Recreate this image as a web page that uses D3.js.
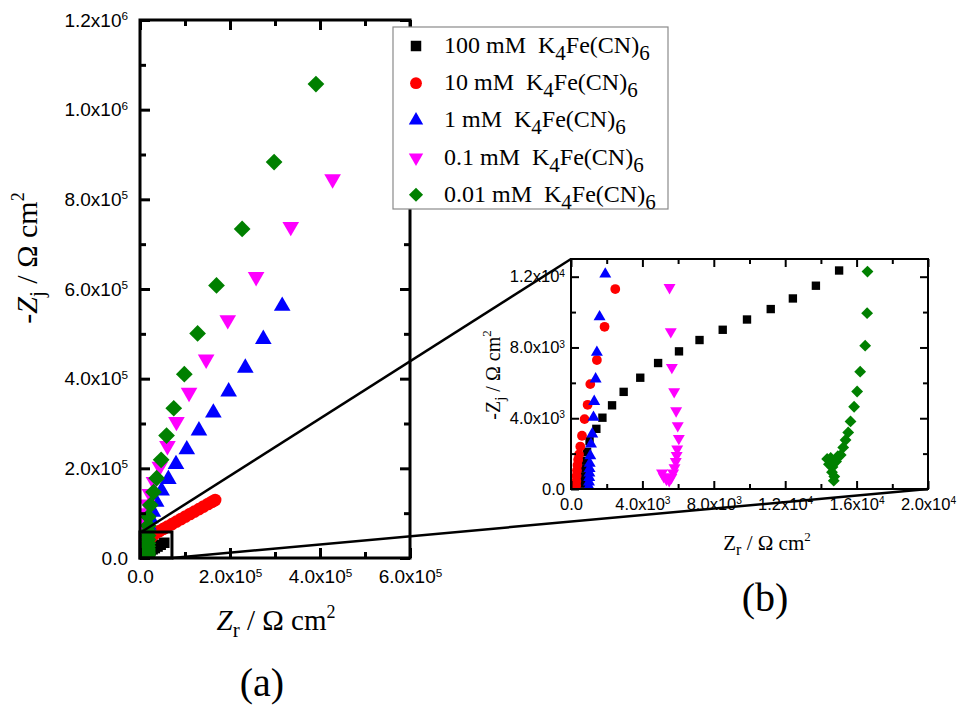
<!DOCTYPE html>
<html>
<head>
<meta charset="utf-8">
<script src="https://cdn.jsdelivr.net/npm/d3@7"></script>
<style>
  body { margin: 0; background: #fff; }
</style>
</head>
<body>
<div id="chart"></div>
<script>
// ---- data (Zr, -Zj in ohm cm2) ----
const series_names = ["100 mM", "10 mM", "1 mM", "0.1 mM", "0.01 mM"];
const series_colors = ["#000000", "#ff0000", "#0000ff", "#ff00ff", "#008000"];
const series_shapes = ["square", "circle", "up", "down", "diamond"];

const zr_100 = [600, 650, 720, 800, 900, 1040, 1420, 1760, 2300, 2950, 3880, 4880, 6050, 7200, 8500, 9860, 11190, 12430, 13720, 15020,
    16500, 18500, 21000, 24000, 28000, 33000, 39000, 46000, 54000];
const zj_100 = [300, 700, 1150, 1600, 2100, 2700, 3400, 4030, 4730, 5490, 6290, 7120, 7780, 8420, 9000, 9580, 10170, 10770, 11490, 12350,
    13200, 14300, 15600, 17200, 19300, 22000, 25500, 29500, 34000];

const zr_10 = [290, 300, 315, 335, 360, 400, 450, 520, 615, 760, 930, 1080, 1450, 1880, 2480,
    3300, 4500, 6200, 8500, 11500, 15000, 19500, 24000, 29000, 34000, 43000, 52000, 61000, 71000, 81000, 91000,
    101000, 111000, 121000, 131000, 141000, 151000, 160000, 167000];
const zj_10 = [200, 450, 750, 1050, 1350, 1650, 1950, 2400, 3010, 3950, 4760, 5930, 7290, 9170, 11300,
    13500, 16500, 20500, 25000, 30000, 35500, 41000, 46000, 50500, 55000, 60000, 65000, 70000, 75600, 81200, 86800,
    92400, 98000, 103500, 109000, 114700, 120300, 125300, 129200];

const zr_1 = [1000, 1010, 1020, 1030, 1040, 1050, 1080, 1120, 1190, 1260, 1300, 1380, 1450, 1600, 1920,
    2500, 3300, 4500, 6000, 8000, 10500, 14000, 18500, 23000, 28500, 36000, 48000, 63000, 80000, 104000,
    131000, 163000, 197000, 234000, 274000, 316000];
const zj_1 = [150, 400, 650, 900, 1150, 1450, 1880, 2540, 3110, 4050, 4950, 6220, 7720, 9730, 12150,
    15500, 20000, 26000, 33000, 41000, 50000, 61000, 74000, 88000, 103000, 125000, 150000, 176000, 209000, 242000,
    284000, 324000, 371000, 424000, 488000, 562000];

const zr_01 = [5100, 5200, 5350, 5500, 5620, 5720, 5800, 5870, 5920, 5950, 6040, 5980, 5890, 5780, 5650, 5590, 5520,
    5500, 5600, 5800, 6200, 6800, 7600, 8600, 10000, 12500, 16000, 22000, 31000, 44000, 61000, 81000,
    109000, 147000, 195000, 258000, 335000, 428000];
const zj_01 = [900, 700, 550, 480, 650, 900, 1200, 1550, 1900, 2260, 2860, 3580, 4420, 5500, 6870, 8890, 11390,
    14500, 19000, 25000, 33000, 43000, 55000, 68000, 83000, 100000, 120000, 143000, 170000, 204000, 250000, 304000,
    369000, 443000, 531000, 627000, 739000, 845000];

const zr_001 = [14350, 14450, 14550, 14650, 14620, 14750, 14720, 14850, 14950, 15110, 15250, 15380, 15530, 15660, 15860,
    16030, 16200, 16480, 16590, 16610,
    16800, 17000, 17300, 17500, 17700, 17900, 18100, 18300, 18500, 23000, 30000, 37000, 47000, 59000, 75000,
    98500, 128000, 170000, 227000, 298000, 391000];
const zj_001 = [1700, 1400, 1750, 1250, 950, 700, 470, 1550, 1850, 1920, 2350, 2770, 3200, 3820, 4650,
    5510, 6630, 8100, 9940, 12290,
    15500, 20000, 26000, 33000, 41000, 50000, 60000, 72000, 92000, 118000, 147000, 178000, 219000, 273000, 334000,
    410000, 501000, 608000, 734000, 883000, 1057000];

const series_zr = [zr_100, zr_10, zr_1, zr_01, zr_001];
const series_zj = [zj_100, zj_10, zj_1, zj_01, zj_001];

// ticks
const main_x_major = [0, 2e5, 4e5, 6e5];
const main_x_minor = [1e5, 3e5, 5e5];
const main_y_major = [0, 2e5, 4e5, 6e5, 8e5, 1e6, 1.2e6];
const main_y_minor = [1e5, 3e5, 5e5, 7e5, 9e5, 1.1e6];
const inset_x_major = [0, 4e3, 8e3, 1.2e4, 1.6e4, 2e4];
const inset_x_minor = [2e3, 6e3, 1e4, 1.4e4, 1.8e4];
const inset_y_major = [0, 4e3, 8e3, 1.2e4];
const inset_y_minor = [2e3, 6e3, 1e4];

// zoom box drawn on the main plot (data units)
const zoom_box = [0, 7.1e4, 0, 5.8e4];

// ---- layout ----
const width = 958, height = 705;
const main = {left: 140, top: 20, right: 410, bottom: 558};
const inset = {left: 571, top: 259, right: 928, bottom: 489};
const serif = "'Liberation Serif', 'Times New Roman', serif";
const sans = "'Liberation Sans', Arial, sans-serif";

const svg = d3.select("#chart")
    .append("svg")
    .attr("width", width)
    .attr("height", height);

const x_main = d3.scaleLinear().domain([0, 6e5]).range([main.left, main.right]);
const y_main = d3.scaleLinear().domain([0, 1.2e6]).range([main.bottom, main.top]);
const x_inset = d3.scaleLinear().domain([0, 2e4]).range([inset.left, inset.right]);
const y_inset = d3.scaleLinear().domain([0, 1.3e4]).range([inset.bottom, inset.top]);

function symbolPath(shape, size) {
    const type = {square: d3.symbolSquare, circle: d3.symbolCircle, up: d3.symbolTriangle,
        down: d3.symbolTriangle, diamond: d3.symbolSquare}[shape];
    return d3.symbol(type, size)();
}
function symbolRotate(shape) {
    if (shape === "down") return " rotate(180)";
    if (shape === "diamond") return " rotate(45)";
    return "";
}

function sciLabel(sel, v) {
    sel.text(null);
    if (v === 0) {
        sel.append("tspan").text("0.0");
        return;
    }
    const e = Math.floor(Math.log10(v) + 1e-9);
    const m = v / Math.pow(10, e);
    sel.append("tspan").text(m.toFixed(1) + "x10");
    sel.append("tspan").attr("dy", "-0.55em").attr("font-size", "0.62em").text(e);
}

function addAxis(g, axisFn, scale, pos, values, size, labels, fontSize, pad, lw) {
    const a = axisFn(scale).tickValues(values).tickSize(-size).tickPadding(pad);
    if (!labels) a.tickFormat("");
    const ag = g.append("g").attr("transform", pos).call(a);
    ag.select(".domain").remove();
    ag.selectAll("line").attr("stroke", "#000").attr("stroke-width", lw);
    if (labels) {
        ag.selectAll("text")
            .attr("font-family", sans)
            .attr("font-size", fontSize)
            .attr("fill", "#000")
            .each(function (d) { sciLabel(d3.select(this), d); });
    } else {
        ag.selectAll("text").remove();
    }
}

function drawPanel(g, x, y, box, opt) {
    const clipId = "clip_" + opt.name;
    g.append("clipPath").attr("id", clipId)
        .append("rect")
        .attr("x", box.left).attr("y", box.top)
        .attr("width", box.right - box.left).attr("height", box.bottom - box.top);

    g.append("rect")
        .attr("x", box.left).attr("y", box.top)
        .attr("width", box.right - box.left).attr("height", box.bottom - box.top)
        .attr("fill", "#fff");

    const pts = g.append("g").attr("clip-path", "url(#" + clipId + ")");
    for (let s = 0; s < series_names.length; ++s) {
        const data = series_zr[s].map((v, i) => [v, series_zj[s][i]]);
        const shape = series_shapes[s];
        pts.append("g").selectAll("path")
            .data(data)
            .enter().append("path")
            .attr("d", symbolPath(shape, opt.sizes[shape]))
            .attr("transform", d => "translate(" + x(d[0]) + "," + y(d[1]) + ")" + symbolRotate(shape))
            .attr("fill", series_colors[s]);
    }

    const b = "translate(0," + box.bottom + ")", t = "translate(0," + box.top + ")";
    const l = "translate(" + box.left + ",0)", r = "translate(" + box.right + ",0)";
    addAxis(g, d3.axisBottom, x, b, opt.xMinor, opt.minor, false, 0, 0, opt.lw);
    addAxis(g, d3.axisBottom, x, b, opt.xMajor, opt.major, true, opt.font, opt.padX, opt.lw);
    addAxis(g, d3.axisTop, x, t, opt.xMinor, opt.minor, false, 0, 0, opt.lw);
    addAxis(g, d3.axisTop, x, t, opt.xMajor, opt.major, false, 0, 0, opt.lw);
    addAxis(g, d3.axisLeft, y, l, opt.yMinor, opt.minor, false, 0, 0, opt.lw);
    addAxis(g, d3.axisLeft, y, l, opt.yMajor, opt.major, true, opt.font, opt.padY, opt.lw);
    addAxis(g, d3.axisRight, y, r, opt.yMinor, opt.minor, false, 0, 0, opt.lw);
    addAxis(g, d3.axisRight, y, r, opt.yMajor, opt.major, false, 0, 0, opt.lw);

    g.append("rect")
        .attr("x", box.left).attr("y", box.top)
        .attr("width", box.right - box.left).attr("height", box.bottom - box.top)
        .attr("fill", "none").attr("stroke", "#000").attr("stroke-width", opt.lw);
}

// ---- main plot (a) ----
const gMain = svg.append("g");
drawPanel(gMain, x_main, y_main, main, {
    name: "main", xMajor: main_x_major, xMinor: main_x_minor, yMajor: main_y_major, yMinor: main_y_minor,
    major: 10, minor: 6, font: 19, padX: 12, padY: 12, lw: 3,
    sizes: {square: 110, circle: 125, up: 120, down: 120, diamond: 140}
});

// zoom box
gMain.append("rect")
    .attr("x", x_main(zoom_box[0]))
    .attr("y", y_main(zoom_box[3]))
    .attr("width", x_main(zoom_box[1]) - x_main(zoom_box[0]))
    .attr("height", y_main(zoom_box[2]) - y_main(zoom_box[3]))
    .attr("fill", "none").attr("stroke", "#000").attr("stroke-width", 3);

// axis titles of (a)
gMain.append("text")
    .attr("x", 276).attr("y", 630)
    .attr("text-anchor", "middle")
    .attr("font-family", serif).attr("font-size", 29)
    .call(t => {
        t.append("tspan").attr("font-style", "italic").text("Z");
        t.append("tspan").attr("dy", 7).attr("font-size", 21).text("r");
        t.append("tspan").attr("dy", -7).text(" / \u03A9 cm");
        t.append("tspan").attr("dy", -12).attr("font-size", 18).text("2");
    });

gMain.append("text")
    .attr("transform", "translate(37,258) rotate(-90)")
    .attr("text-anchor", "middle")
    .attr("font-family", serif).attr("font-size", 30)
    .call(t => {
        t.append("tspan").text("-");
        t.append("tspan").attr("font-style", "italic").text("Z");
        t.append("tspan").attr("dy", 7).attr("font-size", 21).text("j");
        t.append("tspan").attr("dy", -7).text(" / \u03A9 cm");
        t.append("tspan").attr("dy", -13).attr("font-size", 18).text("2");
    });

// legend
const legend = svg.append("g");
legend.append("rect")
    .attr("x", 393).attr("y", 27).attr("width", 275).attr("height", 182)
    .attr("fill", "#fff").attr("stroke", "#8a8a8a").attr("stroke-width", 1.2);
const legend_sizes = {square: 110, circle: 110, up: 90, down: 90, diamond: 100};
series_names.forEach((name, i) => {
    const yy = 46 + i * 37.2;
    const shape = series_shapes[i];
    legend.append("path")
        .attr("d", symbolPath(shape, legend_sizes[shape]))
        .attr("transform", "translate(416," + yy + ")" + symbolRotate(shape))
        .attr("fill", series_colors[i]);
    legend.append("text")
        .attr("x", 444).attr("y", yy + 7)
        .attr("font-family", serif).attr("font-size", 24)
        .style("white-space", "pre")
        .call(t => {
            t.append("tspan").text(name + "  K");
            t.append("tspan").attr("dy", 7).attr("font-size", 21).text("4");
            t.append("tspan").attr("dy", -7).text("Fe(CN)");
            t.append("tspan").attr("dy", 7).attr("font-size", 21).text("6");
        });
});

// ---- inset plot (b) ----
const gInset = svg.append("g");
drawPanel(gInset, x_inset, y_inset, inset, {
    name: "inset", xMajor: inset_x_major, xMinor: inset_x_minor, yMajor: inset_y_major, yMinor: inset_y_minor,
    major: 8, minor: 5, font: 16.5, padX: 9, padY: 6, lw: 2,
    sizes: {square: 70, circle: 75, up: 62, down: 62, diamond: 70}
});

gInset.append("text")
    .attr("x", 767).attr("y", 550)
    .attr("text-anchor", "middle")
    .attr("font-family", serif).attr("font-size", 21)
    .call(t => {
        t.append("tspan").text("Z");
        t.append("tspan").attr("dy", 5).attr("font-size", 16).text("r");
        t.append("tspan").attr("dy", -5).text(" / \u03A9 cm");
        t.append("tspan").attr("dy", -9).attr("font-size", 13).text("2");
    });

gInset.append("text")
    .attr("transform", "translate(500,375) rotate(-90)")
    .attr("text-anchor", "middle")
    .attr("font-family", serif).attr("font-size", 20)
    .call(t => {
        t.append("tspan").text("-Z");
        t.append("tspan").attr("dy", 5).attr("font-size", 15).text("j");
        t.append("tspan").attr("dy", -5).text(" / \u03A9 cm");
        t.append("tspan").attr("dy", -9).attr("font-size", 13).text("2");
    });

// connector lines from the zoom box to the inset
const connectors = [
    [[x_main(zoom_box[0]) + 1.5, y_main(zoom_box[3])], [inset.left, inset.top]],
    [[x_main(zoom_box[1]), y_main(zoom_box[2])], [inset.right, inset.bottom]]
];
svg.append("g").selectAll("line")
    .data(connectors)
    .enter().append("line")
    .attr("x1", d => d[0][0]).attr("y1", d => d[0][1])
    .attr("x2", d => d[1][0]).attr("y2", d => d[1][1])
    .attr("stroke", "#000").attr("stroke-width", 2.5);

// panel letters
svg.append("text").attr("x", 262).attr("y", 696).attr("text-anchor", "middle")
    .attr("font-family", serif).attr("font-size", 40).text("(a)");
svg.append("text").attr("x", 765).attr("y", 611).attr("text-anchor", "middle")
    .attr("font-family", serif).attr("font-size", 40).text("(b)");
</script>
</body>
</html>
